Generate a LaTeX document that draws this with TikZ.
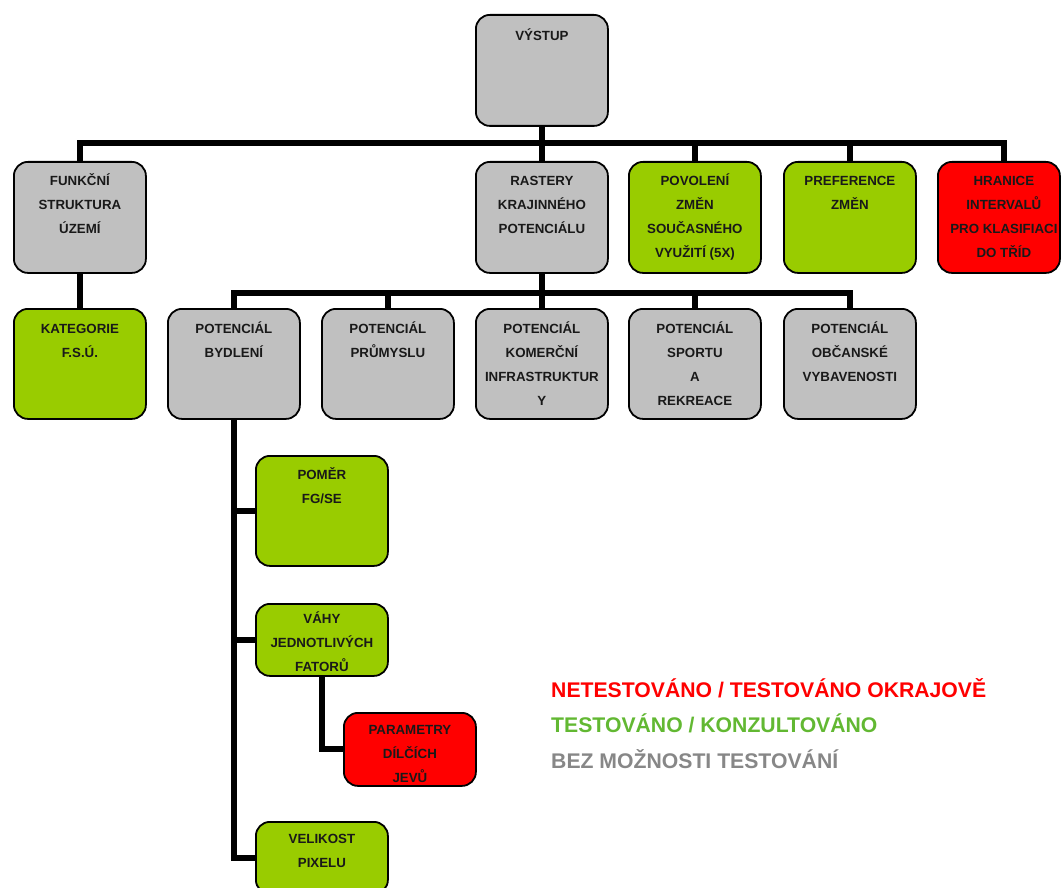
\documentclass[tikz,border=0pt]{standalone}
\usepackage{fontspec}
\setmainfont{Liberation Sans}
\definecolor{boxgray}{HTML}{C0C0C0}
\definecolor{boxgreen}{HTML}{99CC00}
\definecolor{boxred}{HTML}{FF0000}
\definecolor{leggreen}{HTML}{62B832}
\definecolor{leggray}{HTML}{878787}
\newcommand{\bx}[8][24]{%
  \node[bxs, fill=#7, anchor=north west] (#2) at (#3,-#4)
    {\parbox[t][#6pt][t]{#5pt}{\centering\vspace*{\dimexpr #1pt-16.8pt\relax}\strut #8}};}
\begin{document}
\begin{tikzpicture}[x=1pt,y=1pt,
  bxs/.style={draw=black, line width=1.8pt, rounded corners=14pt, inner sep=0pt,
    font=\fontsize{13.3}{24}\selectfont\bfseries, text=black!90},
  conn/.style={draw=black, line width=6pt, line join=miter},
  leg/.style={anchor=base west, inner sep=0pt, font=\fontsize{21.2}{24}\selectfont\bfseries}]
\useasboundingbox (0,0) rectangle (1061,-888);
% boxes
\bx[26]{vystup}{475}{14}{132}{111}{boxgray}{VÝSTUP}
\bx{funk}{13}{161}{132}{111}{boxgray}{FUNKČNÍ\\STRUKTURA\\ÚZEMÍ}
\bx{rast}{475}{161}{132}{111}{boxgray}{RASTERY\\KRAJINNÉHO\\POTENCIÁLU}
\bx{pov}{628}{161}{132}{111}{boxgreen}{POVOLENÍ\\ZMĚN\\SOUČASNÉHO\\VYUŽITÍ (5X)}
\bx{pref}{783}{161}{132}{111}{boxgreen}{PREFERENCE\\ZMĚN}
\bx{hran}{937}{161}{122}{111}{boxred}{\hspace*{10pt}HRANICE\\\hspace*{10pt}INTERVALŮ\\\hspace*{10pt}PRO KLASIFIACI\\\hspace*{10pt}DO TŘÍD}
\bx[25]{kat}{13}{308}{132}{110}{boxgreen}{KATEGORIE\\F.S.Ú.}
\bx[25]{bydl}{167}{308}{132}{110}{boxgray}{POTENCIÁL\\BYDLENÍ}
\bx[25]{prum}{321}{308}{132}{110}{boxgray}{POTENCIÁL\\PRŮMYSLU}
\bx[25]{kom}{475}{308}{132}{110}{boxgray}{POTENCIÁL\\KOMERČNÍ\\INFRASTRUKTUR\\Y}
\bx[25]{sport}{628}{308}{132}{110}{boxgray}{POTENCIÁL\\SPORTU\\A\\REKREACE}
\bx[25]{obc}{783}{308}{132}{110}{boxgray}{POTENCIÁL\\OBČANSKÉ\\VYBAVENOSTI}
\bx{pomer}{255}{455}{132}{110}{boxgreen}{POMĚR\\FG/SE}
\bx[20]{vahy}{255}{603}{132}{72}{boxgreen}{VÁHY\\JEDNOTLIVÝCH\\FATORŮ}
\bx[22]{param}{343}{712}{132}{73}{boxred}{PARAMETRY\\DÍLČÍCH\\JEVŮ}
\bx[22]{vel}{255}{821}{132}{72}{boxgreen}{VELIKOST\\PIXELU}
% connectors, level 1
\path (vystup.south) ++(0,-16) coordinate (bar1);
\draw[conn] (funk.north) |- (bar1) -| ([xshift=5pt]hran.north);
\draw[conn] (vystup.south) -- (rast.north);
\draw[conn] (pov.north) -- (pov.north |- bar1);
\draw[conn] (pref.north) -- (pref.north |- bar1);
% level 2
\path (rast.south) ++(0,-19) coordinate (bar2);
\draw[conn] (bydl.north) |- (bar2) -| (obc.north);
\draw[conn] (rast.south) -- (kom.north);
\draw[conn] (prum.north) -- (prum.north |- bar2);
\draw[conn] (sport.north) -- (sport.north |- bar2);
\draw[conn] (funk.south) -- (kat.north);
% spine
\draw[conn] (bydl.south) |- (vel.west);
\draw[conn] (pomer.west) -- (pomer.west -| bydl.south);
\draw[conn] (vahy.west) -- (vahy.west -| bydl.south);
\draw[conn] (vahy.south) |- (param.west);
% legend
\node[leg, text=boxred] (leg1) at (551,-697) {NETESTOVÁNO / TESTOVÁNO OKRAJOVĚ};
\node[leg, text=leggreen] (leg2) at (551,-732.5) {TESTOVÁNO / KONZULTOVÁNO};
\node[leg, text=leggray] (leg3) at (551,-768) {BEZ MOŽNOSTI TESTOVÁNÍ};
\end{tikzpicture}
\end{document}
